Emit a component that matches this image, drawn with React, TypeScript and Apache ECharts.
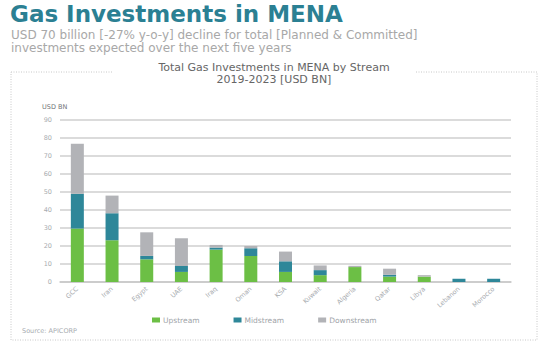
import React, { useEffect, useRef } from "react";
import * as echarts from "echarts";

const categories = ["GCC", "Iran", "Egypt", "UAE", "Iraq", "Oman", "KSA", "Kuwait", "Algeria", "Qatar", "Libya", "Lebanon", "Morocco"];
const upstream = [29.7, 23.2, 12.6, 5.6, 18.0, 14.5, 5.6, 3.8, 8.3, 3.0, 3.0, 0, 0];
const midstream = [19.3, 15.0, 1.9, 3.3, 1.1, 4.2, 5.9, 2.8, 0, 1.0, 0, 1.8, 1.8];
const downstream = [27.8, 9.8, 13.1, 15.4, 1.5, 1.3, 5.4, 2.6, 0.7, 3.4, 0.8, 0, 0];
const yTicks = [0, 10, 20, 30, 40, 50, 60, 70, 80, 90];

const FONT = "'DejaVu Sans', sans-serif";

export default function App() {
  const ref = useRef<HTMLDivElement>(null);
  useEffect(() => {
    const chart = echarts.init(ref.current!, null, { renderer: "svg" });
    const barW = 13;
    chart.setOption({
      animation: false,
      backgroundColor: "#ffffff",
      textStyle: { fontFamily: FONT },
      grid: { left: 60, right: 39, top: 120, bottom: 68 },
      legend: {
        data: ["Upstream", "Midstream", "Downstream"],
        left: 147,
        top: 311,
        itemWidth: 8,
        itemHeight: 5,
        itemGap: 34,
        icon: "rect",
        textStyle: { fontFamily: FONT, fontSize: 7.5, color: "#a0a4a8", padding: [0, 0, 0, -2] },
      },
      xAxis: {
        type: "category",
        data: categories,
        axisLine: { lineStyle: { color: "#c8c8c8", width: 1.5 } },
        axisTick: { show: false },
        axisLabel: { rotate: 42, fontSize: 6.5, color: "#a8acb0", margin: 6, interval: 0, fontFamily: FONT },
      },
      yAxis: {
        type: "value",
        min: 0,
        max: 90,
        interval: 10,
        name: "USD BN",
        nameLocation: "end",
        nameGap: 10,
        nameTextStyle: { fontSize: 6.5, color: "#707478", align: "left", padding: [0, 0, 0, -18], fontFamily: FONT },
        axisLine: { show: false },
        axisTick: { show: false },
        axisLabel: { fontSize: 6.5, color: "#a8acb0", margin: 8, fontFamily: FONT, formatter: (v: number) => (yTicks.includes(v) ? String(v) : "") },
        splitLine: { lineStyle: { color: "#cfcfcf", width: 1.5 } },
      },
      series: [
        { name: "Upstream", type: "bar", stack: "s", barWidth: barW, data: upstream, itemStyle: { color: "#6cbf45" } },
        { name: "Midstream", type: "bar", stack: "s", barWidth: barW, data: midstream, itemStyle: { color: "#2e8799" } },
        { name: "Downstream", type: "bar", stack: "s", barWidth: barW, data: downstream, itemStyle: { color: "#b2b3b7" } },
      ],
      graphic: [
        { type: "text", left: 10, top: 2, style: { text: "Gas Investments in MENA", fontFamily: FONT, fontSize: 23, fontWeight: "bold", fill: "#2b8093" } },
        { type: "text", x: 11, y: 35, style: { text: "USD 70 billion [-27% y-o-y] decline for total [Planned & Committed]", fontFamily: FONT, fontSize: 12, verticalAlign: "middle", fill: "#a8a8a8" } },
        { type: "text", x: 11, y: 47.5, style: { text: "investments expected over the next five years", fontFamily: FONT, fontSize: 12, verticalAlign: "middle", fill: "#a8a8a8" } },
        { type: "rect", shape: { x: 11, y: 72, width: 526, height: 268 }, style: { fill: "none", stroke: "#c8c8c8", lineWidth: 1, lineDash: [1, 1.5] } },
        { type: "rect", shape: { x: 112, y: 68, width: 304, height: 8 }, style: { fill: "#ffffff" } },
        { type: "text", x: 274, y: 67, style: { text: "Total Gas Investments in MENA by Stream", align: "center", verticalAlign: "middle", fontFamily: FONT, fontSize: 11, fill: "#666666" } },
        { type: "text", x: 274, y: 79, style: { text: "2019-2023 [USD BN]", align: "center", verticalAlign: "middle", fontFamily: FONT, fontSize: 11, fill: "#666666" } },
        { type: "text", left: 22, top: 327, style: { text: "Source: APICORP", fontFamily: FONT, fontSize: 6.5, fill: "#a8acb0" } },
      ],
    });
    return () => chart.dispose();
  }, []);
  return <div ref={ref} style={{ width: 550, height: 350, position: "absolute", left: 0, top: 0 }} />;
}
